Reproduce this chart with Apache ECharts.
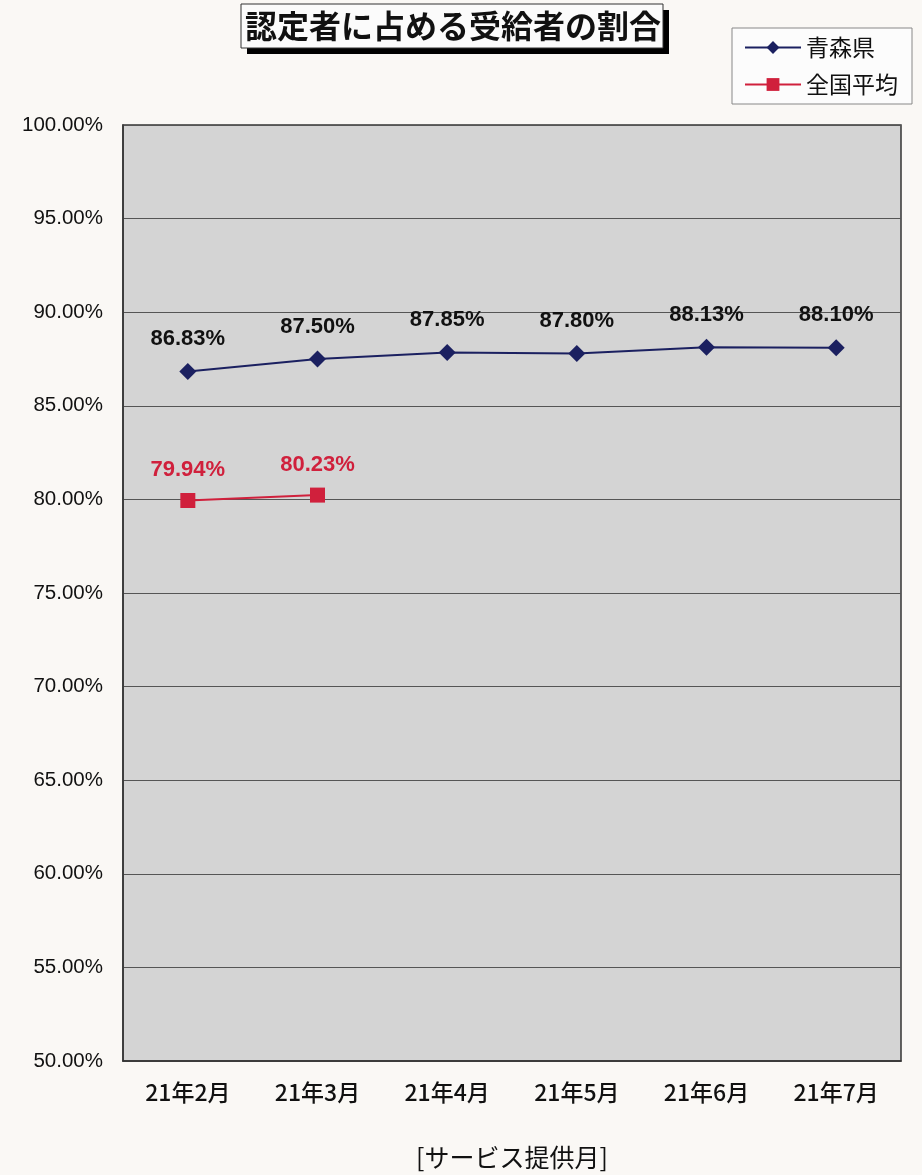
<!DOCTYPE html>
<html><head><meta charset="utf-8">
<script src="https://cdn.jsdelivr.net/npm/echarts@6/dist/echarts.min.js"></script>
<style>html,body{margin:0;padding:0;background:#faf8f5;overflow:hidden;}#c{width:922px;height:1175px;}</style>
</head><body><div id="c"></div>
<script>
const categories = ['21年2月','21年3月','21年4月','21年5月','21年6月','21年7月'];
const aomori = [86.83, 87.50, 87.85, 87.80, 88.13, 88.10];
const national = [79.94, 80.23, null, null, null, null];
const seriesNames = ['青森県','全国平均'];
const chartTitle = '認定者に占める受給者の割合';
const xAxisName = '[サービス提供月]';

const chart = echarts.init(document.getElementById('c'));
const jp = '"Noto Sans CJK JP", "Noto Sans", sans-serif';
const lat = '"Liberation Sans", Arial, sans-serif';
chart.setOption({
  backgroundColor: '#faf8f5',
  animation: false,
  graphic: [
    { type: 'rect', z: -1, shape: { x: 247, y: 10, width: 422, height: 44 }, style: { fill: '#000' } },
    { type: 'rect', z: 0, shape: { x: 241, y: 4, width: 422, height: 44 }, style: { fill: '#fbfbfb', stroke: '#333', lineWidth: 1 } }
  ],
  title: {
    text: chartTitle,
    left: 245, top: 5, padding: 0, z: 10,
    textStyle: { fontFamily: jp, fontSize: 32, fontWeight: 'bold', color: '#111', lineHeight: 42 }
  },
  legend: {
    right: 10, top: 28,
    orient: 'vertical',
    itemWidth: 56, itemHeight: 16, itemGap: 14,
    padding: [8, 14, 8, 12],
    backgroundColor: '#fcfcfc',
    borderColor: '#888', borderWidth: 1,
    textStyle: { fontFamily: jp, fontSize: 23, color: '#111' },
    data: seriesNames
  },
  grid: {
    left: 123, top: 125, width: 778, height: 936,
    show: true, backgroundColor: '#d4d4d4', borderColor: '#333', borderWidth: 1.5
  },
  xAxis: {
    type: 'category', data: categories, boundaryGap: true,
    axisLine: { lineStyle: { color: '#333', width: 1.5 } },
    axisTick: { inside: true, length: 5, lineStyle: { color: '#555' } },
    axisLabel: { fontFamily: jp, fontSize: 23, fontWeight: 500, color: '#111', margin: 20 },
    name: xAxisName, nameLocation: 'middle', nameGap: 84,
    nameTextStyle: { fontFamily: jp, fontSize: 25, color: '#111' }
  },
  yAxis: {
    type: 'value', min: 50, max: 100, interval: 5,
    axisLine: { show: true, lineStyle: { color: '#333', width: 1.5 } },
    axisTick: { show: false },
    axisLabel: { fontFamily: lat, fontSize: 20.5, color: '#111', margin: 20,
      formatter: v => v.toFixed(2) + '%' },
    splitLine: { lineStyle: { color: '#555', width: 1 } }
  },
  series: [
    {
      name: seriesNames[0], type: 'line', data: aomori,
      symbol: 'diamond', symbolSize: 17,
      lineStyle: { color: '#1b2060', width: 2 },
      itemStyle: { color: '#1b2060' },
      label: { show: true, position: 'top', distance: 13, fontFamily: lat,
        fontSize: 22, fontWeight: 'bold', color: '#111', formatter: p => p.value.toFixed(2) + '%' }
    },
    {
      name: seriesNames[1], type: 'line', data: national, connectNulls: false,
      symbol: 'rect', symbolSize: 15,
      lineStyle: { color: '#d0203c', width: 2 },
      itemStyle: { color: '#d0203c' },
      label: { show: true, position: 'top', distance: 12, fontFamily: lat,
        fontSize: 22, fontWeight: 'bold', color: '#d0203c', formatter: p => p.value.toFixed(2) + '%' }
    }
  ]
});
</script></body></html>
